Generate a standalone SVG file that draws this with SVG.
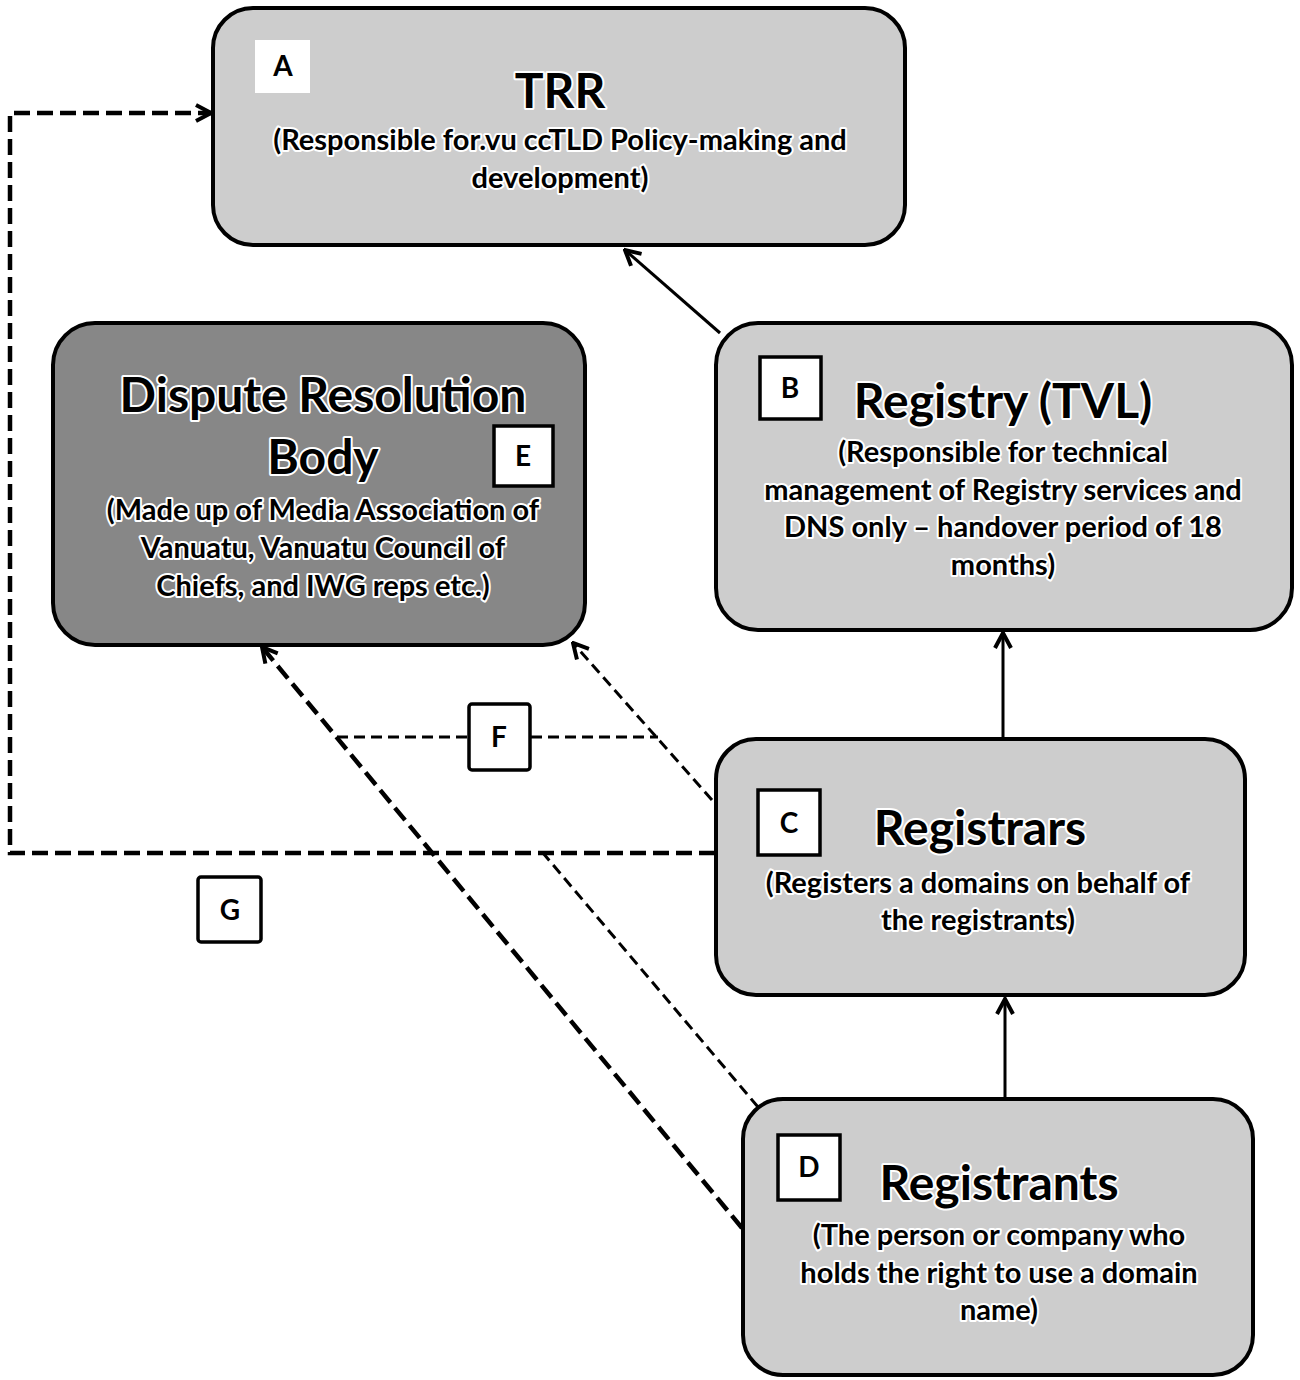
<svg xmlns="http://www.w3.org/2000/svg" width="1300" height="1380" viewBox="0 0 1300 1380">
<style>
.box{stroke:#000;stroke-width:4;}
.light{fill:#cdcdcd;}
.dark{fill:#878787;}
.tag{fill:#fff;stroke:#000;stroke-width:3.5;}
.t{font-family:Lato,"Liberation Sans",sans-serif;font-weight:bold;fill:#000;text-anchor:middle;stroke:#fff;stroke-width:4;stroke-linejoin:round;paint-order:stroke;}
.title{font-size:48px;}
.body{font-size:29px;}
.lbl{font-family:Lato,"Liberation Sans",sans-serif;font-weight:bold;font-size:28px;text-anchor:middle;fill:#000;}
.solid{fill:none;stroke:#000;stroke-width:3;}
.dthick{fill:none;stroke:#000;stroke-width:4.5;stroke-dasharray:16 7;}
.dthin{fill:none;stroke:#000;stroke-width:3;stroke-dasharray:11 6;}
</style>
<defs>
<marker id="arr" viewBox="0 0 20 20" refX="18" refY="10" markerWidth="20" markerHeight="20" markerUnits="userSpaceOnUse" orient="auto">
<path d="M3,2 L18,10 L3,18" fill="none" stroke="#000" stroke-width="4"/>
</marker>
</defs>
<rect width="1300" height="1380" fill="#fff"/>

<g id="connectors">
<path class="solid" d="M720,333 L625,250" marker-end="url(#arr)"/>
<path class="solid" d="M1003,738 L1003,633" marker-end="url(#arr)"/>
<path class="solid" d="M1005,1098 L1005,999" marker-end="url(#arr)"/>
<path class="dthick" d="M715,853 H10 V113 H211" marker-end="url(#arr)"/>
<path class="dthin" d="M712,800 L573,643" marker-end="url(#arr)"/>
<path class="dthick" d="M742,1228 L262,647" marker-end="url(#arr)"/>
<path class="dthin" d="M758,1107 L543,853"/>
<path class="dthin" d="M337,737 H468"/>
<path class="dthin" d="M531,737 H658"/>
</g>

<g id="node-A">
<rect class="box light" x="213" y="8" width="692" height="237" rx="40"/>
<rect x="255" y="40" width="55" height="53" fill="#fff"/>
<text class="lbl" x="283" y="76">A</text>
<text class="t title" x="560" y="108">TRR</text>
<text class="t body" x="560" y="150">(Responsible for.vu ccTLD Policy-making and</text>
<text class="t body" x="560" y="188">development)</text>
</g>

<g id="node-E">
<rect class="box dark" x="53" y="323" width="532" height="322" rx="42"/>
<rect class="tag" x="494" y="426" width="59" height="60"/>
<text class="lbl" x="523" y="466">E</text>
<text class="t title" x="323" y="412">Dispute Resolution</text>
<text class="t title" x="323" y="474">Body</text>
<text class="t body" x="323" y="520">(Made up of Media Association of</text>
<text class="t body" x="323" y="558">Vanuatu, Vanuatu Council of</text>
<text class="t body" x="323" y="596">Chiefs, and IWG reps etc.)</text>
</g>

<g id="node-B">
<rect class="box light" x="716" y="323" width="576" height="307" rx="42"/>
<rect class="tag" x="760" y="357" width="61" height="62"/>
<text class="lbl" x="790" y="398">B</text>
<text class="t title" x="1003" y="418">Registry (TVL)</text>
<text class="t body" x="1003" y="462">(Responsible for technical</text>
<text class="t body" x="1003" y="500">management of Registry services and</text>
<text class="t body" x="1003" y="537">DNS only – handover period of 18</text>
<text class="t body" x="1003" y="575">months)</text>
</g>

<g id="node-C">
<rect class="box light" x="716" y="739" width="529" height="256" rx="40"/>
<rect class="tag" x="758" y="790" width="62" height="65"/>
<text class="lbl" x="789" y="833">C</text>
<text class="t title" x="980" y="845">Registrars</text>
<text class="t body" x="978" y="893">(Registers a domains on behalf of</text>
<text class="t body" x="978" y="930">the registrants)</text>
</g>

<g id="node-D">
<rect class="box light" x="743" y="1099" width="510" height="276" rx="40"/>
<rect class="tag" x="778" y="1135" width="62" height="65"/>
<text class="lbl" x="809" y="1177">D</text>
<text class="t title" x="999" y="1200">Registrants</text>
<text class="t body" x="999" y="1245">(The person or company who</text>
<text class="t body" x="999" y="1283">holds the right to use a domain</text>
<text class="t body" x="999" y="1320">name)</text>
</g>

<g id="node-F">
<rect class="tag" x="469" y="704" width="61" height="66" rx="3"/>
<text class="lbl" x="499" y="747">F</text>
</g>

<g id="node-G">
<rect class="tag" x="198" y="877" width="63" height="65" rx="3"/>
<text class="lbl" x="230" y="920">G</text>
</g>
</svg>
